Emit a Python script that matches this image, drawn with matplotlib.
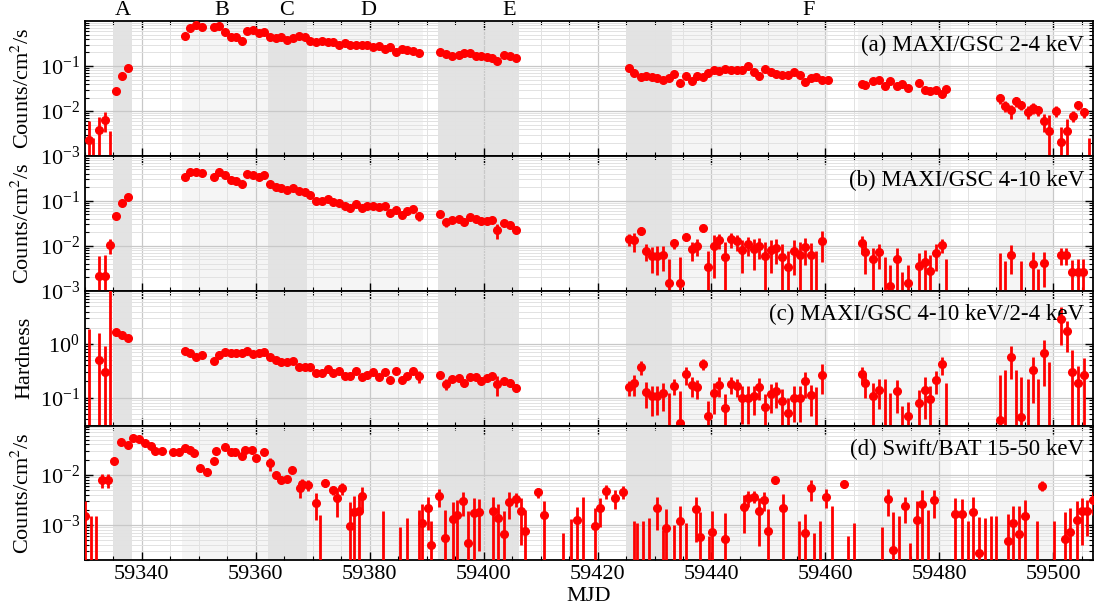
import numpy as np
import matplotlib
matplotlib.use("Agg")
import matplotlib.pyplot as plt
from matplotlib.ticker import MultipleLocator, LogLocator, NullFormatter
from matplotlib.transforms import blended_transform_factory

plt.rcParams['font.family'] = ['Liberation Serif', 'DejaVu Serif']
plt.rcParams['mathtext.fontset'] = 'stix'

# ---------------- data ----------------
# (a) MAXI/GSC 2-4 keV
a_mjd = [59330.7, 59331.5, 59332.5, 59333.5, 59334.5, 59335.5, 59336.5, 59337.5,
         59347.5, 59348.5, 59349.5, 59350.5, 59352.7, 59353.6, 59354.6, 59355.6, 59356.5, 59357.5,
         59358.5, 59359.5, 59360.5, 59361.5, 59362.5, 59363.5, 59364.5, 59365.5, 59366.6, 59367.6,
         59368.6, 59369.6, 59370.6, 59371.6, 59372.6, 59373.6, 59374.6, 59375.6, 59376.6, 59377.6,
         59378.6, 59379.6, 59380.6, 59381.6, 59382.6, 59383.6, 59384.6, 59385.6, 59386.6, 59387.6,
         59388.6,
         59392.4, 59393.4, 59394.4, 59395.6, 59396.6, 59397.6, 59398.6, 59399.6, 59400.6, 59401.5,
         59402.4, 59403.6, 59404.6, 59405.6,
         59425.5, 59426.4, 59427.6, 59428.5, 59429.5, 59430.5, 59431.5, 59432.5, 59433.5, 59434.5,
         59435.5, 59436.5, 59437.5, 59438.5, 59439.4, 59440.4, 59441.4, 59442.4, 59443.4, 59444.4,
         59445.4, 59446.4, 59447.4, 59448.4, 59449.4, 59450.4, 59451.4, 59452.4, 59453.4, 59454.5,
         59455.5, 59456.5, 59457.4, 59458.4, 59459.4, 59460.4,
         59466.4, 59467.0, 59468.4, 59469.4, 59470.4, 59471.4, 59472.5, 59473.5, 59474.5,
         59476.5, 59477.4, 59478.4, 59479.4, 59480.4, 59481.1,
         59490.6, 59491.5, 59492.5, 59493.5, 59494.4, 59495.5, 59496.5, 59497.4, 59498.4, 59499.2,
         59500.5, 59501.4, 59502.4, 59503.4, 59504.4, 59505.4, 59506.2]
a_val = [2.3e-3, 5e-4, 3.8e-3, 6.4e-3, 5e-4, 0.0283, 0.061, 0.092,
         0.466, 0.687, 0.82, 0.72, 0.72, 0.78, 0.566, 0.45, 0.43, 0.36,
         0.586, 0.618, 0.537, 0.556, 0.43, 0.42, 0.43, 0.385, 0.41, 0.475,
         0.437, 0.366, 0.347, 0.354, 0.347, 0.335, 0.30, 0.32, 0.286, 0.296,
         0.29, 0.29, 0.267, 0.28, 0.245, 0.26, 0.209, 0.24, 0.232, 0.215,
         0.195,
         0.2, 0.185, 0.169, 0.172, 0.195, 0.19, 0.167, 0.167, 0.16, 0.15,
         0.128, 0.172, 0.166, 0.15,
         0.092, 0.0705, 0.056, 0.059, 0.056, 0.053, 0.0497, 0.053, 0.0656, 0.041,
         0.059, 0.047, 0.061, 0.056, 0.0705, 0.083, 0.078, 0.085, 0.08, 0.08,
         0.083, 0.1, 0.075, 0.059, 0.087, 0.072, 0.068, 0.063, 0.063, 0.074,
         0.063, 0.044, 0.054, 0.056, 0.049, 0.049,
         0.040, 0.038, 0.046, 0.0497, 0.0356, 0.047, 0.036, 0.039, 0.032,
         0.043, 0.030, 0.028, 0.030, 0.024, 0.031,
         0.0193, 0.0131, 0.0103, 0.0165, 0.0138, 0.0097, 0.0118, 0.0103, 0.0061, 0.0037,
         0.010, 0.0021, 0.0036, 0.0079, 0.0138, 0.0095, 5e-4]
a_err = [3.7e-3, 2.0e-3, 3.4e-3, 3.0e-3, 3.1e-3, 0.002, 0.003, 0.004,
         0.02, 0.03, 0.03, 0.03, 0.03, 0.03, 0.02, 0.02, 0.02, 0.02,
         0.02, 0.02, 0.02, 0.02, 0.02, 0.02, 0.02, 0.015, 0.015, 0.02,
         0.015, 0.015, 0.015, 0.015, 0.015, 0.015, 0.012, 0.012, 0.012, 0.012,
         0.012, 0.012, 0.01, 0.01, 0.01, 0.01, 0.01, 0.01, 0.01, 0.01,
         0.008,
         0.008, 0.008, 0.007, 0.007, 0.008, 0.008, 0.007, 0.007, 0.007, 0.007,
         0.006, 0.007, 0.007, 0.006,
         0.004, 0.003, 0.003, 0.003, 0.003, 0.003, 0.003, 0.003, 0.003, 0.003,
         0.003, 0.003, 0.003, 0.003, 0.003, 0.004, 0.004, 0.004, 0.004, 0.004,
         0.004, 0.005, 0.004, 0.003, 0.004, 0.004, 0.004, 0.003, 0.003, 0.004,
         0.003, 0.003, 0.003, 0.004, 0.004, 0.007,
         0.004, 0.007, 0.003, 0.003, 0.003, 0.003, 0.003, 0.003, 0.003,
         0.003, 0.003, 0.003, 0.003, 0.003, 0.004,
         0.005, 0.0035, 0.0035, 0.004, 0.003, 0.003, 0.003, 0.0025, 0.0027, 0.0045,
         0.0028, 0.0024, 0.0029, 0.0022, 0.003, 0.0025, 2.0e-3]

# (b) MAXI/GSC 4-10 keV
b_mjd = [59332.5, 59333.5, 59334.5, 59335.5, 59336.5, 59337.5,
         59347.5, 59348.5, 59349.5, 59350.5, 59352.7, 59353.6, 59354.6, 59355.6, 59356.5, 59357.5,
         59358.5, 59359.5, 59360.5, 59361.5, 59362.5, 59363.5, 59364.5, 59365.5, 59366.6, 59367.6,
         59368.6, 59369.6, 59370.6, 59371.6, 59372.6, 59373.6, 59374.6, 59375.6, 59376.6, 59377.6,
         59378.6, 59379.6, 59380.6, 59381.6, 59382.6, 59383.6, 59384.6, 59385.6, 59386.6, 59387.6,
         59388.6,
         59392.4, 59393.4, 59394.5, 59395.6, 59396.6, 59397.6, 59398.6, 59399.6, 59400.6, 59401.5,
         59402.4, 59403.6, 59404.6, 59405.6,
         59425.5, 59426.4, 59427.6, 59428.5, 59429.5, 59430.5, 59431.5, 59432.5, 59433.5, 59434.5,
         59435.5, 59436.5, 59437.5, 59438.5, 59439.4, 59440.4, 59441.4, 59442.4, 59443.4, 59444.4,
         59445.4, 59446.4, 59447.4, 59448.4, 59449.4, 59450.4, 59451.4, 59452.4, 59453.4, 59454.5,
         59455.5, 59456.5, 59457.4, 59458.4, 59459.4,
         59466.4, 59467.0, 59468.4, 59469.4, 59470.4, 59471.4, 59472.5, 59473.5, 59474.5,
         59476.5, 59477.4, 59478.4, 59479.4, 59480.4, 59481.1,
         59490.6, 59491.5, 59492.5, 59494.4, 59496.5, 59497.4, 59498.4,
         59501.3, 59502.3, 59503.3, 59504.3, 59505.3]
b_val = [0.0021, 0.0021, 0.0105, 0.046, 0.089, 0.119,
         0.336, 0.434, 0.434, 0.42, 0.33, 0.44, 0.37, 0.293, 0.273, 0.231,
         0.398, 0.373, 0.336, 0.373, 0.235, 0.198, 0.188, 0.17, 0.194, 0.163,
         0.157, 0.131, 0.097, 0.098, 0.109, 0.093, 0.09, 0.076, 0.07, 0.086,
         0.069, 0.075, 0.077, 0.071, 0.075, 0.053, 0.063, 0.049, 0.058, 0.065,
         0.046,
         0.0506, 0.033, 0.037, 0.039, 0.034, 0.044, 0.039, 0.035, 0.035, 0.0365,
         0.0223, 0.0324, 0.0293, 0.023,
         0.0141, 0.0134, 0.0216, 0.0077, 0.006, 0.006, 0.0062, 0.0015, 0.0113, 0.0015,
         0.0158, 0.0085, 0.010, 0.0243, 0.0033, 0.0097, 0.0136, 0.0055, 0.014, 0.0127,
         0.0081, 0.0109, 0.0084, 0.010, 0.0058, 0.008, 0.0089, 0.0057, 0.0033, 0.0077,
         0.0064, 0.0092, 0.0062, 0.0005, 0.0129,
         0.0115, 0.0074, 0.005, 0.0071, 0.0005, 0.0013, 0.005, 0.0005, 0.0015,
         0.0036, 0.0044, 0.0028, 0.0068, 0.0105, 0.0005,
         0.0005, 0.0005, 0.0064, 0.0005, 0.004, 0.0005, 0.0042,
         0.0063, 0.0063, 0.0026, 0.0026, 0.0026]
b_err = [0.0039, 0.0041, 0.0038, 0.003, 0.004, 0.005,
         0.015, 0.02, 0.02, 0.02, 0.015, 0.02, 0.015, 0.012, 0.012, 0.01,
         0.015, 0.015, 0.015, 0.015, 0.01, 0.008, 0.008, 0.007, 0.008, 0.007,
         0.007, 0.006, 0.005, 0.005, 0.005, 0.005, 0.005, 0.004, 0.004, 0.004,
         0.004, 0.004, 0.004, 0.004, 0.004, 0.004, 0.004, 0.005, 0.004, 0.005,
         0.011,
         0.005, 0.007, 0.004, 0.004, 0.004, 0.004, 0.004, 0.004, 0.004, 0.004,
         0.008, 0.004, 0.004, 0.004,
         0.004, 0.006, 0.004, 0.0032, 0.0035, 0.0038, 0.0035, 0.0036, 0.003, 0.0042,
         0.003, 0.0039, 0.004, 0.004, 0.0044, 0.0078, 0.005, 0.0065, 0.005, 0.005,
         0.0056, 0.005, 0.0055, 0.005, 0.0062, 0.0055, 0.005, 0.0055, 0.0045, 0.0055,
         0.0055, 0.0055, 0.0055, 0.0072, 0.0085,
         0.005, 0.005, 0.004, 0.004, 0.005, 0.0025, 0.004, 0.0021, 0.0022,
         0.0032, 0.0035, 0.0033, 0.004, 0.0035, 0.0045,
         0.0065, 0.0041, 0.004, 0.0042, 0.0032, 0.0025, 0.003,
         0.0025, 0.0025, 0.0022, 0.0025, 0.0025]

# (c) Hardness 4-10 keV / 2-4 keV
c_mjd = [59330.7, 59332.5, 59333.5, 59334.5, 59335.5, 59336.5, 59337.5] + a_mjd[8:63] + [
         59425.5, 59426.4, 59427.6, 59428.5, 59429.5, 59430.5, 59431.5, 59432.5, 59433.5, 59434.5,
         59435.5, 59436.5, 59437.5, 59438.5, 59439.4, 59440.4, 59441.4, 59442.4, 59443.4, 59444.4,
         59445.4, 59446.4, 59447.4, 59448.4, 59449.4, 59450.4, 59451.4, 59452.4, 59453.4, 59454.5,
         59455.5, 59456.5, 59457.4, 59458.4, 59459.4,
         59466.4, 59467.0, 59468.4, 59469.4, 59470.4, 59471.4, 59472.5, 59473.5, 59474.5,
         59476.5, 59477.4, 59478.4, 59479.4, 59480.4, 59481.1,
         59490.6, 59491.5, 59492.5, 59493.5, 59494.4, 59495.5, 59496.5, 59497.4, 59498.4, 59499.2,
         59501.4, 59502.4, 59503.3, 59504.3, 59505.4]
c_val = [0.02, 0.5, 0.3, 0.02, 1.66, 1.5, 1.28,
         0.75, 0.665, 0.56, 0.61, 0.48, 0.61, 0.715, 0.685, 0.685, 0.685,
         0.726, 0.636, 0.685, 0.705, 0.583, 0.497, 0.455, 0.455, 0.48, 0.366,
         0.366, 0.366, 0.29, 0.29, 0.34, 0.29, 0.307, 0.247, 0.247, 0.307,
         0.24, 0.258, 0.294, 0.243, 0.303, 0.213, 0.316, 0.213, 0.25, 0.312,
         0.25,
         0.265, 0.179, 0.226, 0.236, 0.187, 0.243, 0.24, 0.207, 0.233, 0.247,
         0.179, 0.2, 0.19, 0.153,
         0.155, 0.185, 0.37, 0.128, 0.105, 0.107, 0.12, 0.02, 0.167, 0.033,
         0.27, 0.174, 0.155, 0.43, 0.045, 0.119, 0.174, 0.063, 0.179, 0.162,
         0.097, 0.097, 0.107, 0.16, 0.066, 0.116, 0.13, 0.087, 0.052, 0.1,
         0.1, 0.2, 0.11, 0.02, 0.265,
         0.277, 0.187, 0.107, 0.14, 0.02, 0.02, 0.132, 0.02, 0.046,
         0.08, 0.14, 0.093, 0.217, 0.417, 0.02,
         0.038, 0.02, 0.575, 0.02, 0.043, 0.02, 0.33, 0.02, 0.665, 0.02,
         2.94, 1.71, 0.3, 0.187, 0.258]
c_err = [1.88, 1.1, 0.62, 12.0, 0.25, 0.15, 0.1,
         0.04, 0.035, 0.03, 0.03, 0.03, 0.03, 0.035, 0.03, 0.03, 0.03,
         0.035, 0.03, 0.03, 0.035, 0.03, 0.025, 0.025, 0.025, 0.025, 0.02,
         0.02, 0.02, 0.02, 0.02, 0.02, 0.02, 0.02, 0.02, 0.02, 0.025,
         0.02, 0.02, 0.025, 0.02, 0.025, 0.025, 0.03, 0.025, 0.03, 0.035,
         0.06,
         0.04, 0.04, 0.03, 0.03, 0.03, 0.03, 0.03, 0.03, 0.03, 0.03,
         0.07, 0.03, 0.03, 0.025,
         0.05, 0.08, 0.11, 0.065, 0.06, 0.06, 0.065, 0.1, 0.055, 0.1,
         0.1, 0.07, 0.06, 0.1, 0.04, 0.07, 0.07, 0.055, 0.065, 0.06,
         0.065, 0.065, 0.06, 0.07, 0.05, 0.065, 0.065, 0.06, 0.045, 0.065,
         0.065, 0.1, 0.065, 0.14, 0.15,
         0.1, 0.09, 0.08, 0.08, 0.2, 0.1, 0.08, 0.05, 0.035,
         0.06, 0.1, 0.07, 0.1, 0.15, 0.17,
         0.22, 0.3, 0.35, 0.3, 0.2, 0.2, 0.25, 0.2, 0.5, 0.45,
         2.0, 1.0, 0.47, 0.2, 0.3]

# (d) Swift/BAT 15-50 keV
d_mjd = [59330.1, 59331.0, 59332.0, 59333.0, 59334.0, 59335.2, 59336.4, 59337.5, 59338.5, 59339.5,
         59340.5, 59341.6, 59342.3, 59343.5, 59345.4, 59346.5, 59347.5, 59348.5, 59349.2, 59350.2,
         59351.4, 59352.6, 59353.1, 59354.6, 59355.6, 59356.3, 59357.5, 59358.1, 59359.3, 59360.0,
         59361.5, 59362.5, 59363.5, 59364.5, 59365.5, 59366.3, 59367.7, 59368.1, 59369.1, 59370.5,
         59371.3, 59372.1, 59373.5, 59374.3, 59375.1, 59376.6, 59377.2, 59378.2, 59378.6, 59382.3,
         59385.4, 59386.5, 59388.6, 59389.2, 59390.2, 59390.8, 59392.2, 59393.3, 59394.7, 59395.4,
         59396.4, 59397.3, 59398.3, 59399.1, 59401.6, 59402.5, 59403.5, 59404.5, 59405.6, 59406.5,
         59407.3, 59409.6, 59410.6,
         59414.0, 59415.3, 59416.4, 59417.4, 59419.6, 59420.5, 59421.4, 59423.1, 59424.5, 59426.4,
         59427.0, 59428.0, 59429.0, 59430.5, 59431.5, 59432.0, 59433.5, 59434.5, 59435.5, 59437.2,
         59438.0, 59439.5, 59440.1, 59442.4, 59445.7, 59446.4, 59447.4, 59448.3, 59449.2, 59449.9,
         59451.1, 59452.5, 59455.3, 59456.5, 59457.5, 59458.0, 59459.0, 59460.1, 59461.1, 59463.2,
         59464.0, 59465.0, 59470.0, 59470.9, 59471.9, 59473.0, 59474.0, 59474.9, 59476.0, 59477.0,
         59478.0, 59479.0, 59482.8, 59483.9, 59485.0, 59485.9, 59486.9, 59488.0, 59489.0, 59490.0,
         59492.0, 59493.0, 59494.0, 59495.0, 59497.2, 59498.0, 59500.1, 59502.0, 59503.0, 59504.1,
         59505.1, 59506.0, 59507.0]
d_val = [1.5e-3, 1e-4, 1e-4, 7.9e-3, 7.9e-3, 0.0188, 0.0457, 0.0398, 0.0533, 0.051,
         0.043, 0.0374, 0.030, 0.029, 0.0286, 0.0284, 0.0337, 0.0316, 0.0268, 0.0134,
         0.0115, 0.0185, 0.030, 0.0352, 0.0288, 0.0285, 0.0236, 0.0306, 0.0306, 0.0216,
         0.0285, 0.0169, 9.7e-3, 7.9e-3, 8.2e-3, 0.0126, 5.5e-3, 6.7e-3, 6.2e-3, 2.75e-3,
         1e-4, 6.9e-3, 4.9e-3, 3.47e-3, 5.4e-3, 9.8e-4, 1.82e-3, 1.9e-3, 3.8e-3, 1e-4,
         1e-4, 1e-4, 1e-4, 1.1e-3, 2.2e-3, 4e-4, 3.8e-3, 5.6e-4, 1.33e-3, 1.6e-3,
         3e-3, 4.5e-4, 1.77e-3, 1.8e-3, 1.9e-3, 1.36e-3, 6.8e-4, 2.9e-3, 3.25e-3, 1.9e-3,
         7.8e-4, 4.5e-3, 1.6e-3,
         1e-4, 1e-4, 1.24e-3, 1e-4, 9.5e-4, 2.2e-3, 4.8e-3, 3.5e-3, 4.6e-3, 1e-4,
         1e-4, 1e-4, 1e-4, 2.2e-3, 1e-4, 8.8e-4, 1e-4, 1.18e-3, 1e-4, 2.06e-3,
         5.9e-4, 1e-4, 7.4e-4, 5.3e-4, 2.3e-3, 3.5e-3, 3.7e-3, 1.88e-3, 3.2e-3, 7.8e-4,
         7.9e-3, 2.2e-3, 1e-4, 6.9e-4, 5.4e-3, 1e-4, 1e-4, 3.7e-3, 1e-4, 6.7e-3,
         1e-4, 1e-4, 1e-4, 3.3e-3, 3.2e-4, 1e-4, 2.4e-3, 1e-4, 1.26e-3, 2.6e-3,
         1e-4, 3.2e-3, 1.64e-3, 1.64e-3, 1e-4, 1.85e-3, 2.8e-4, 1e-4, 1e-4, 1e-4,
         4.8e-4, 1.08e-3, 6.8e-4, 1.5e-3, 1e-4, 6.1e-3, 1e-4, 5.3e-4, 7.2e-4, 1.26e-3,
         1.9e-3, 1.9e-3, 3.1e-3]
d_err = [1.5e-3, 1.4e-3, 1.4e-3, 2.5e-3, 2.5e-3, 1.5e-3, 2e-3, 2e-3, 2e-3, 2e-3,
         2e-3, 2e-3, 2e-3, 2e-3, 2e-3, 2e-3, 2e-3, 2e-3, 2e-3, 2e-3,
         2e-3, 2e-3, 2e-3, 2e-3, 2e-3, 2e-3, 2e-3, 2e-3, 2e-3, 2e-3,
         2e-3, 5e-3, 1e-3, 1e-3, 1e-3, 1.5e-3, 2e-3, 1.5e-3, 1.5e-3, 1.5e-3,
         1.5e-3, 1.2e-3, 1e-3, 2e-3, 1.5e-3, 1.9e-3, 2e-3, 1.7e-3, 1.8e-3, 1.8e-3,
         8e-4, 1.3e-3, 1.9e-3, 1.5e-3, 1.4e-3, 8e-4, 1.5e-3, 1.4e-3, 1.5e-3, 1.6e-3,
         1.5e-3, 1.5e-3, 1.7e-3, 1.5e-3, 1.7e-3, 1.3e-3, 1.2e-3, 1.6e-3, 1e-3, 1.5e-3,
         1.2e-3, 1e-3, 1.4e-3,
         6e-4, 1.2e-3, 1.1e-3, 3.5e-3, 1.2e-3, 1.3e-3, 1.5e-3, 1.4e-3, 1.3e-3, 1.1e-3,
         1e-3, 1.1e-3, 1.3e-3, 1.4e-3, 7e-4, 1.2e-3, 9e-4, 1.2e-3, 1e-3, 1.6e-3,
         1.2e-3, 5e-4, 1.2e-3, 1.2e-3, 1.6e-3, 1.2e-3, 1e-3, 1.5e-3, 1.3e-3, 1.3e-3,
         1.2e-3, 2e-3, 1.1e-3, 1e-3, 2.4e-3, 6e-4, 1.1e-3, 1.5e-3, 2.3e-3, 1.2e-3,
         5e-4, 1e-3, 8e-4, 1.8e-3, 1.5e-3, 1.4e-3, 1.3e-3, 3.5e-4, 1.8e-3, 2.4e-3,
         1.9e-3, 1.8e-3, 1.8e-3, 1.6e-3, 1.1e-3, 1.8e-3, 1.2e-3, 1.3e-3, 1.4e-3, 1.4e-3,
         1.2e-3, 1.3e-3, 1.7e-3, 1.6e-3, 1.1e-3, 1.3e-3, 1.1e-3, 1.3e-3, 1.5e-3, 1.8e-3,
         1.5e-3, 1.3e-3, 1.5e-3]

# shaded intervals: (start, end, shade)
spans = [(59335.0, 59338.3, 'dark'), (59347.0, 59362.1, 'light'), (59362.1, 59369.0, 'dark'),
         (59369.0, 59389.3, 'light'), (59392.0, 59406.2, 'dark'),
         (59425.0, 59433.1, 'dark'), (59433.1, 59460.5, 'light'),
         (59465.8, 59482.0, 'light'), (59490.0, 59500.1, 'light')]
region_names = ['A', 'B', 'C', 'D', 'E', 'F']
region_pos = [59336.7, 59354.1, 59365.4, 59379.7, 59404.5, 59457.1]

panel_titles = ['(a) MAXI/GSC 2-4 keV', '(b) MAXI/GSC 4-10 keV',
                '(c) MAXI/GSC 4-10 keV/2-4 keV', '(d) Swift/BAT 15-50 keV']
ylabels = ['Counts/cm$^2$/s', 'Counts/cm$^2$/s', 'Hardness', 'Counts/cm$^2$/s']
ylims = [(1e-3, 0.98), (1e-3, 0.98), (0.03, 9.8), (2e-4, 0.095)]
xlim = (59330, 59507)

series = [(a_mjd, a_val, a_err), (b_mjd, b_val, b_err), (c_mjd, c_val, c_err), (d_mjd, d_val, d_err)]

# ---------------- figure ----------------
fig = plt.figure(figsize=(11.02, 6.11), dpi=100)
gs = fig.add_gridspec(4, 1, left=0.077, right=0.992, top=0.965, bottom=0.083, hspace=0)
shade = {'dark': '#e3e3e3', 'light': '#f5f5f5'}
axes = []
for i in range(4):
    ax = fig.add_subplot(gs[i], sharex=axes[0] if axes else None)
    axes.append(ax)
    for s0, s1, kind in spans:
        ax.axvspan(s0, s1, color=shade[kind], zorder=0.1, lw=0)
    x, y, e = series[i]
    ax.errorbar(x, y, yerr=e, fmt='o', color='red', ms=5.5, elinewidth=2, capsize=0, zorder=3)
    ax.set_yscale('log')
    ax.set_ylim(*ylims[i])
    ax.set_xlim(*xlim)
    ax.set_ylabel(ylabels[i], fontsize=16)
    ax.text(0.991, 0.9, panel_titles[i], transform=ax.transAxes, ha='right', va='top', fontsize=16.5)
    ax.xaxis.set_major_locator(MultipleLocator(20))
    ax.xaxis.set_minor_locator(MultipleLocator(5))
    ax.yaxis.set_major_locator(LogLocator(base=10, numticks=10))
    ax.yaxis.set_minor_locator(LogLocator(base=10, subs=np.arange(2, 10), numticks=20))
    ax.yaxis.set_minor_formatter(NullFormatter())
    ax.set_axisbelow(True)
    ax.grid(which='major', color='#c8c8c8', lw=0.9, zorder=0.5)
    ax.grid(which='minor', color='#e2e2e2', lw=0.7, zorder=0.5)
    ax.tick_params(which='both', direction='in', top=True, right=True, labelsize=16)
    ax.tick_params(which='major', length=6, width=1)
    ax.tick_params(which='minor', length=3, width=0.8)
    for sp in ax.spines.values():
        sp.set_linewidth(1.3)
    if i < 3:
        ax.tick_params(labelbottom=False)

axes[-1].set_xlabel('MJD', fontsize=16)
axes[-1].xaxis.set_label_coords(0.5, -0.2)
trans = blended_transform_factory(axes[0].transData, axes[0].transAxes)
for name, pos in zip(region_names, region_pos):
    axes[0].text(pos, 1.01, name, transform=trans, ha='center', va='bottom', fontsize=16)

fig.align_ylabels(axes)
fig.savefig('out.png', dpi=100)
